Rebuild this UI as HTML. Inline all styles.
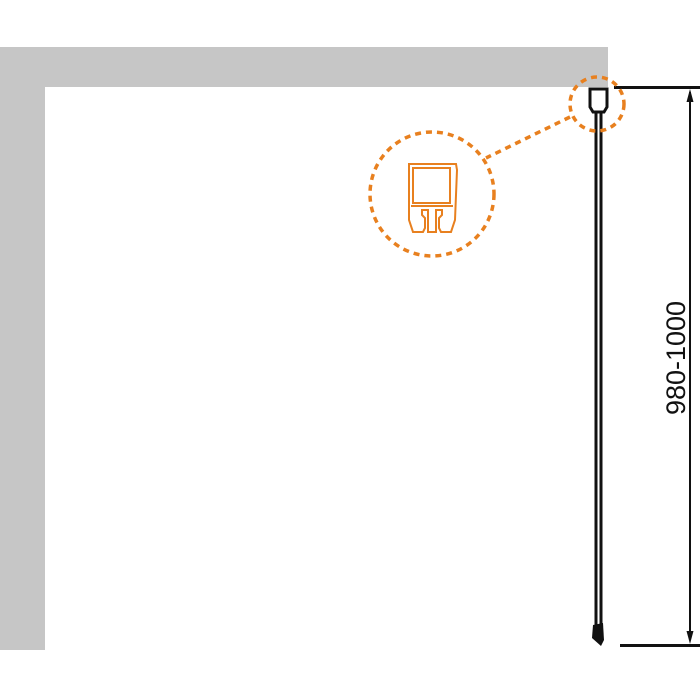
<!DOCTYPE html>
<html><head><style>html,body{margin:0;padding:0;background:#fff;overflow:hidden;}</style></head>
<body>
<svg width="700" height="700" viewBox="0 0 700 700" xmlns="http://www.w3.org/2000/svg" style="display:block">
<rect x="0" y="47" width="608" height="40" fill="#c6c6c6"/>
<rect x="0" y="47" width="45" height="603" fill="#c6c6c6"/>
<!-- glass -->
<line x1="596" y1="110" x2="596" y2="628" stroke="#111" stroke-width="3"/>
<line x1="601" y1="110" x2="601" y2="628" stroke="#111" stroke-width="3"/>
<path d="M590 89 H607 V107 L604 112 H593 L590 107 Z" fill="#fff" stroke="#111" stroke-width="3"/>
<path d="M593 625 L603 623 L604 640 L601 646 L592 638 Z" fill="#111"/>
<!-- dimension -->
<line x1="614" y1="87.5" x2="700" y2="87.5" stroke="#111" stroke-width="3"/>
<line x1="620" y1="645.5" x2="700" y2="645.5" stroke="#111" stroke-width="3"/>
<line x1="690" y1="92" x2="690" y2="640" stroke="#111" stroke-width="2"/>
<path d="M690 89 L686.5 102 L693.5 102 Z" fill="#111"/>
<path d="M690 644 L686.5 631 L693.5 631 Z" fill="#111"/>
<text x="0" y="0" transform="translate(685,358) rotate(-90)" text-anchor="middle" font-family="Liberation Sans, sans-serif" font-size="27" fill="#111">980-1000</text>
<!-- callouts -->
<g fill="none" stroke="#e8801f" stroke-width="3.5" stroke-dasharray="6 5">
<circle cx="597" cy="104" r="27"/>
<circle cx="432" cy="194" r="62"/>
<line x1="570" y1="117" x2="486" y2="158"/>
</g>
<g fill="none" stroke="#e8801f" stroke-width="2">
<path d="M409 164 H456 L457 170 L455 220 L451 232 H441 L439 228 V218 L442 215 V210 H436 V232 H428 V210 H422 V215 L425 218 V228 L423 232 H413 L409 220 Z"/>
<rect x="413" y="168" width="37" height="35"/>
<line x1="411" y1="206" x2="453" y2="206"/>
</g>
</svg>
</body></html>
